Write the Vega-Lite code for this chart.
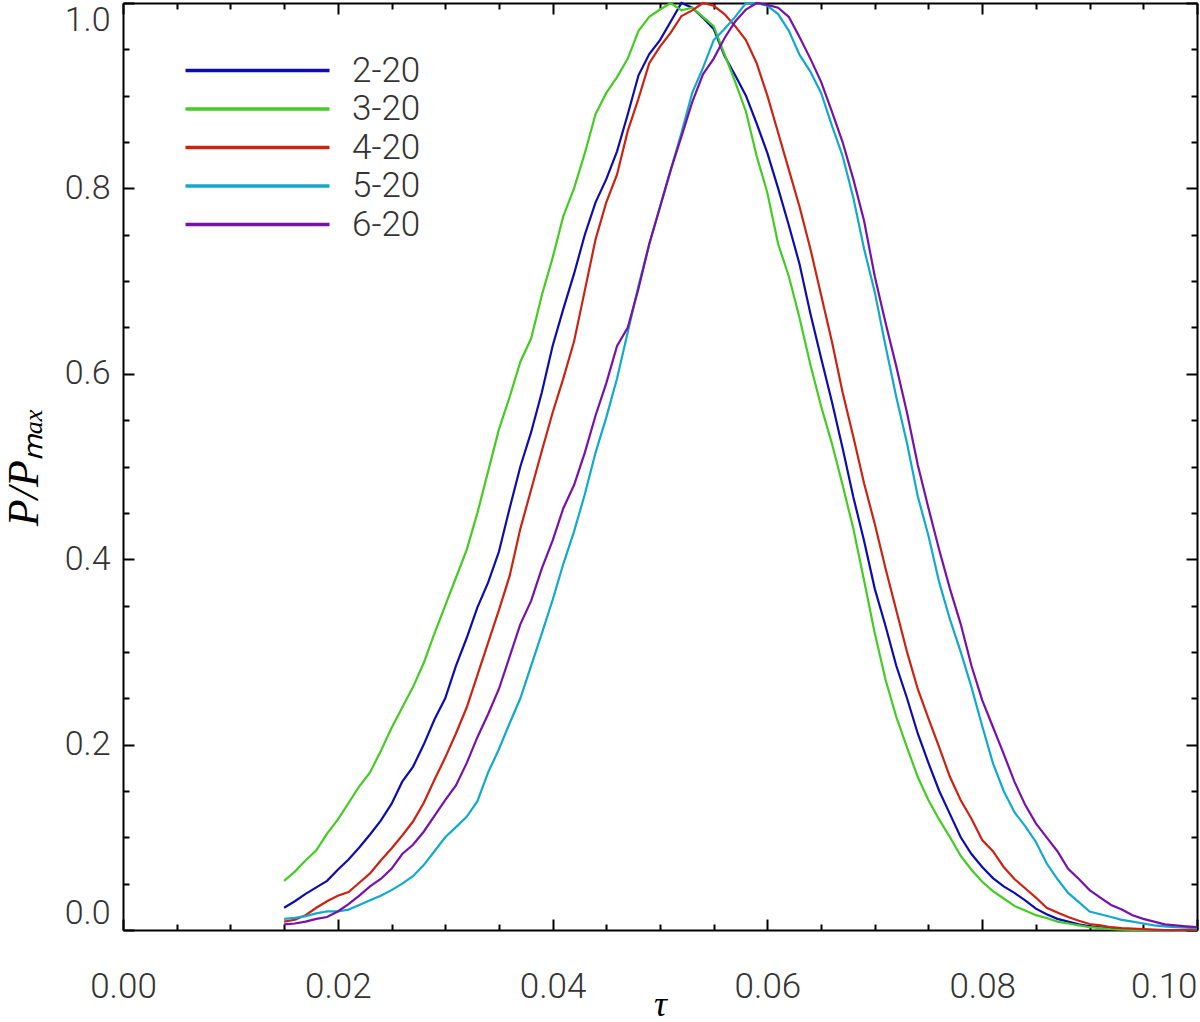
{
 "$schema": "https://vega.github.io/schema/vega-lite/v6.json",
 "width": 1074, "height": 927,
 "autosize": {"type": "none"},
 "padding": {"left": 123, "top": 3, "right": 3, "bottom": 92},
 "background": "white",
 "config": {"view": {"stroke": null}},
 "data": {"values": [
  {"t":0.015,"2-20":0.024,"3-20":0.053,"4-20":0.009,"5-20":0.012,"6-20":0.006},
  {"t":0.016,"2-20":0.031,"3-20":0.063,"4-20":0.011,"5-20":0.013,"6-20":0.007},
  {"t":0.017,"2-20":0.039,"3-20":0.075,"4-20":0.016,"5-20":0.015,"6-20":0.009},
  {"t":0.018,"2-20":0.046,"3-20":0.086,"4-20":0.024,"5-20":0.018,"6-20":0.012},
  {"t":0.019,"2-20":0.053,"3-20":0.104,"4-20":0.031,"5-20":0.020,"6-20":0.014},
  {"t":0.020,"2-20":0.065,"3-20":0.119,"4-20":0.037,"5-20":0.020,"6-20":0.020},
  {"t":0.021,"2-20":0.076,"3-20":0.137,"4-20":0.041,"5-20":0.022,"6-20":0.028},
  {"t":0.022,"2-20":0.089,"3-20":0.155,"4-20":0.051,"5-20":0.027,"6-20":0.037},
  {"t":0.023,"2-20":0.103,"3-20":0.170,"4-20":0.061,"5-20":0.032,"6-20":0.047},
  {"t":0.024,"2-20":0.118,"3-20":0.193,"4-20":0.075,"5-20":0.037,"6-20":0.055},
  {"t":0.025,"2-20":0.136,"3-20":0.218,"4-20":0.088,"5-20":0.043,"6-20":0.066},
  {"t":0.026,"2-20":0.160,"3-20":0.240,"4-20":0.102,"5-20":0.050,"6-20":0.082},
  {"t":0.027,"2-20":0.176,"3-20":0.262,"4-20":0.117,"5-20":0.058,"6-20":0.092},
  {"t":0.028,"2-20":0.200,"3-20":0.288,"4-20":0.137,"5-20":0.070,"6-20":0.106},
  {"t":0.029,"2-20":0.227,"3-20":0.320,"4-20":0.162,"5-20":0.085,"6-20":0.123},
  {"t":0.030,"2-20":0.250,"3-20":0.350,"4-20":0.186,"5-20":0.100,"6-20":0.140},
  {"t":0.031,"2-20":0.285,"3-20":0.380,"4-20":0.212,"5-20":0.111,"6-20":0.156},
  {"t":0.032,"2-20":0.315,"3-20":0.410,"4-20":0.240,"5-20":0.122,"6-20":0.180},
  {"t":0.033,"2-20":0.348,"3-20":0.450,"4-20":0.275,"5-20":0.139,"6-20":0.208},
  {"t":0.034,"2-20":0.375,"3-20":0.495,"4-20":0.310,"5-20":0.170,"6-20":0.233},
  {"t":0.035,"2-20":0.408,"3-20":0.540,"4-20":0.345,"5-20":0.195,"6-20":0.260},
  {"t":0.036,"2-20":0.455,"3-20":0.575,"4-20":0.382,"5-20":0.223,"6-20":0.295},
  {"t":0.037,"2-20":0.500,"3-20":0.613,"4-20":0.433,"5-20":0.250,"6-20":0.330},
  {"t":0.038,"2-20":0.537,"3-20":0.638,"4-20":0.475,"5-20":0.285,"6-20":0.355},
  {"t":0.039,"2-20":0.580,"3-20":0.685,"4-20":0.517,"5-20":0.320,"6-20":0.390},
  {"t":0.040,"2-20":0.630,"3-20":0.725,"4-20":0.558,"5-20":0.356,"6-20":0.420},
  {"t":0.041,"2-20":0.670,"3-20":0.770,"4-20":0.595,"5-20":0.395,"6-20":0.455},
  {"t":0.042,"2-20":0.708,"3-20":0.800,"4-20":0.635,"5-20":0.430,"6-20":0.480},
  {"t":0.043,"2-20":0.750,"3-20":0.838,"4-20":0.690,"5-20":0.470,"6-20":0.515},
  {"t":0.044,"2-20":0.785,"3-20":0.880,"4-20":0.745,"5-20":0.515,"6-20":0.555},
  {"t":0.045,"2-20":0.810,"3-20":0.903,"4-20":0.785,"5-20":0.553,"6-20":0.590},
  {"t":0.046,"2-20":0.840,"3-20":0.920,"4-20":0.815,"5-20":0.595,"6-20":0.630},
  {"t":0.047,"2-20":0.880,"3-20":0.940,"4-20":0.862,"5-20":0.645,"6-20":0.650},
  {"t":0.048,"2-20":0.922,"3-20":0.970,"4-20":0.897,"5-20":0.695,"6-20":0.692},
  {"t":0.049,"2-20":0.945,"3-20":0.985,"4-20":0.935,"5-20":0.740,"6-20":0.740},
  {"t":0.050,"2-20":0.960,"3-20":0.993,"4-20":0.953,"5-20":0.780,"6-20":0.780},
  {"t":0.051,"2-20":0.980,"3-20":1.000,"4-20":0.968,"5-20":0.820,"6-20":0.820},
  {"t":0.052,"2-20":1.000,"3-20":0.992,"4-20":0.986,"5-20":0.860,"6-20":0.856},
  {"t":0.053,"2-20":0.995,"3-20":0.995,"4-20":0.992,"5-20":0.903,"6-20":0.893},
  {"t":0.054,"2-20":0.984,"3-20":0.985,"4-20":1.000,"5-20":0.930,"6-20":0.923},
  {"t":0.055,"2-20":0.972,"3-20":0.975,"4-20":0.997,"5-20":0.960,"6-20":0.940},
  {"t":0.056,"2-20":0.943,"3-20":0.945,"4-20":0.988,"5-20":0.972,"6-20":0.962},
  {"t":0.057,"2-20":0.922,"3-20":0.915,"4-20":0.975,"5-20":0.985,"6-20":0.980},
  {"t":0.058,"2-20":0.900,"3-20":0.883,"4-20":0.960,"5-20":1.000,"6-20":0.993},
  {"t":0.059,"2-20":0.870,"3-20":0.835,"4-20":0.935,"5-20":1.000,"6-20":1.000},
  {"t":0.060,"2-20":0.838,"3-20":0.795,"4-20":0.900,"5-20":0.997,"6-20":0.998},
  {"t":0.061,"2-20":0.800,"3-20":0.740,"4-20":0.860,"5-20":0.988,"6-20":0.995},
  {"t":0.062,"2-20":0.760,"3-20":0.705,"4-20":0.820,"5-20":0.970,"6-20":0.985},
  {"t":0.063,"2-20":0.718,"3-20":0.660,"4-20":0.780,"5-20":0.944,"6-20":0.963},
  {"t":0.064,"2-20":0.665,"3-20":0.610,"4-20":0.735,"5-20":0.926,"6-20":0.940},
  {"t":0.065,"2-20":0.617,"3-20":0.565,"4-20":0.685,"5-20":0.903,"6-20":0.915},
  {"t":0.066,"2-20":0.570,"3-20":0.525,"4-20":0.635,"5-20":0.868,"6-20":0.883},
  {"t":0.067,"2-20":0.520,"3-20":0.480,"4-20":0.580,"5-20":0.835,"6-20":0.850},
  {"t":0.068,"2-20":0.467,"3-20":0.433,"4-20":0.532,"5-20":0.790,"6-20":0.810},
  {"t":0.069,"2-20":0.420,"3-20":0.377,"4-20":0.482,"5-20":0.735,"6-20":0.765},
  {"t":0.070,"2-20":0.368,"3-20":0.320,"4-20":0.438,"5-20":0.688,"6-20":0.705},
  {"t":0.071,"2-20":0.328,"3-20":0.270,"4-20":0.390,"5-20":0.630,"6-20":0.655},
  {"t":0.072,"2-20":0.285,"3-20":0.230,"4-20":0.345,"5-20":0.575,"6-20":0.608},
  {"t":0.073,"2-20":0.250,"3-20":0.197,"4-20":0.300,"5-20":0.525,"6-20":0.558},
  {"t":0.074,"2-20":0.212,"3-20":0.165,"4-20":0.260,"5-20":0.468,"6-20":0.502},
  {"t":0.075,"2-20":0.180,"3-20":0.140,"4-20":0.228,"5-20":0.425,"6-20":0.455},
  {"t":0.076,"2-20":0.150,"3-20":0.119,"4-20":0.197,"5-20":0.375,"6-20":0.410},
  {"t":0.077,"2-20":0.125,"3-20":0.100,"4-20":0.165,"5-20":0.335,"6-20":0.368},
  {"t":0.078,"2-20":0.100,"3-20":0.080,"4-20":0.140,"5-20":0.300,"6-20":0.330},
  {"t":0.079,"2-20":0.082,"3-20":0.065,"4-20":0.120,"5-20":0.262,"6-20":0.285},
  {"t":0.080,"2-20":0.068,"3-20":0.052,"4-20":0.097,"5-20":0.220,"6-20":0.248},
  {"t":0.081,"2-20":0.056,"3-20":0.042,"4-20":0.085,"5-20":0.180,"6-20":0.219},
  {"t":0.082,"2-20":0.047,"3-20":0.034,"4-20":0.068,"5-20":0.150,"6-20":0.190},
  {"t":0.083,"2-20":0.040,"3-20":0.026,"4-20":0.055,"5-20":0.127,"6-20":0.160},
  {"t":0.084,"2-20":0.032,"3-20":0.021,"4-20":0.045,"5-20":0.112,"6-20":0.135},
  {"t":0.085,"2-20":0.023,"3-20":0.016,"4-20":0.035,"5-20":0.095,"6-20":0.115},
  {"t":0.086,"2-20":0.017,"3-20":0.013,"4-20":0.024,"5-20":0.072,"6-20":0.100},
  {"t":0.087,"2-20":0.012,"3-20":0.009,"4-20":0.019,"5-20":0.055,"6-20":0.085},
  {"t":0.088,"2-20":0.009,"3-20":0.007,"4-20":0.014,"5-20":0.040,"6-20":0.066},
  {"t":0.089,"2-20":0.006,"3-20":0.005,"4-20":0.010,"5-20":0.030,"6-20":0.055},
  {"t":0.090,"2-20":0.004,"3-20":0.003,"4-20":0.0065,"5-20":0.020,"6-20":0.043},
  {"t":0.091,"2-20":0.003,"3-20":0.002,"4-20":0.005,"5-20":0.017,"6-20":0.035},
  {"t":0.092,"2-20":0.0015,"3-20":0.001,"4-20":0.003,"5-20":0.014,"6-20":0.027},
  {"t":0.093,"2-20":0.001,"3-20":0.0005,"4-20":0.002,"5-20":0.011,"6-20":0.022},
  {"t":0.094,"2-20":0.0005,"3-20":0,"4-20":0.0015,"5-20":0.009,"6-20":0.016},
  {"t":0.095,"2-20":0,"3-20":0,"4-20":0.001,"5-20":0.007,"6-20":0.012},
  {"t":0.096,"2-20":0,"3-20":0,"4-20":0.0005,"5-20":0.005,"6-20":0.009},
  {"t":0.097,"2-20":0,"3-20":0,"4-20":0,"5-20":0.004,"6-20":0.006},
  {"t":0.098,"2-20":0,"3-20":0,"4-20":0,"5-20":0.003,"6-20":0.005},
  {"t":0.099,"2-20":0,"3-20":0,"4-20":0,"5-20":0.0025,"6-20":0.004},
  {"t":0.100,"2-20":0,"3-20":0,"4-20":0,"5-20":0.002,"6-20":0.003}
 ]},
 "transform": [{"fold": ["2-20","3-20","4-20","5-20","6-20"], "as": ["series","p"]}],
 "layer": [
  {
   "mark": {"type": "line", "strokeWidth": 2.2},
   "encoding": {
    "x": {"field": "t", "type": "quantitative",
     "scale": {"domain": [0, 0.1], "nice": false, "zero": false},
     "axis": {"orient": "bottom",
      "values": [0,0.005,0.01,0.015,0.02,0.025,0.03,0.035,0.04,0.045,0.05,0.055,0.06,0.065,0.07,0.075,0.08,0.085,0.09,0.095,0.1],
      "labelExpr": "abs(datum.value*50-round(datum.value*50))<0.001 ? format(datum.value,'.2f') : ''",
      "tickSize": {"condition": {"test": "abs(datum.value*50-round(datum.value*50))<0.001", "value": -11}, "value": -6},
      "tickWidth": 2, "tickColor": "black", "domainColor": "black", "domainWidth": 2, "grid": false,
      "labelFont": "Roboto", "labelFontWeight": 300, "labelFontSize": 35, "labelColor": "#333",
      "labelPadding": 50, "labelOverlap": false, "labelBound": false, "labelFlush": false,
      "labelAlign": {"condition": {"test": "datum.value>0.099", "value": "right"}, "value": "center"},
      "title": "τ", "titleFont": "Liberation Serif", "titleFontStyle": "italic", "titleFontWeight": "normal",
      "titleFontSize": 36, "titleColor": "black", "titleBaseline": "alphabetic", "titleY": 85}},
    "y": {"field": "p", "type": "quantitative",
     "scale": {"domain": [0, 1], "nice": false, "zero": false},
     "axis": {"orient": "left",
      "values": [0,0.05,0.1,0.15,0.2,0.25,0.3,0.35,0.4,0.45,0.5,0.55,0.6,0.65,0.7,0.75,0.8,0.85,0.9,0.95,1],
      "labelExpr": "abs(datum.value*5-round(datum.value*5))<0.001 ? format(datum.value,'.1f') : ''",
      "tickSize": {"condition": {"test": "abs(datum.value*5-round(datum.value*5))<0.001", "value": -11}, "value": -6},
      "tickWidth": 2, "tickColor": "black", "domainColor": "black", "domainWidth": 2, "grid": false,
      "labelFont": "Roboto", "labelFontWeight": 300, "labelFontSize": 34, "labelColor": "#333",
      "labelPadding": 24, "labelOverlap": false, "labelBound": false, "labelFlush": true,
      "title": "P/Pₘₐₓ", "titleFont": "Liberation Serif", "titleFontStyle": "italic", "titleFontWeight": "normal",
      "titleFontSize": 44, "titleColor": "black", "titlePadding": 18}},
    "color": {"field": "series", "type": "nominal",
     "scale": {"domain": ["2-20","3-20","4-20","5-20","6-20"], "range": ["#0c0cb0","#44cc22","#cc2211","#11aacc","#7711aa"]},
     "legend": {"orient": "none", "legendX": 117, "legendY": 50, "title": null,
      "symbolType": "M-6,0H6", "symbolSize": 576, "symbolStrokeWidth": 3.5, "symbolOffset": 0,
      "labelFont": "Roboto", "labelFontWeight": 300, "labelFontSize": 35, "labelColor": "#333",
      "labelOffset": 77, "rowPadding": 2.5, "padding": 0}}
   }
  },
  {
   "mark": {"type": "point", "opacity": 0},
   "encoding": {
    "x": {"field": "t", "type": "quantitative",
     "scale": {"domain": [0, 0.1], "nice": false, "zero": false},
     "axis": {"orient": "top",
      "values": [0,0.005,0.01,0.015,0.02,0.025,0.03,0.035,0.04,0.045,0.05,0.055,0.06,0.065,0.07,0.075,0.08,0.085,0.09,0.095,0.1],
      "labels": false, "title": null,
      "tickSize": {"condition": {"test": "abs(datum.value*50-round(datum.value*50))<0.001", "value": -11}, "value": -6},
      "tickWidth": 2, "tickColor": "black", "domainColor": "black", "domainWidth": 2, "grid": false}},
    "y": {"field": "p", "type": "quantitative",
     "scale": {"domain": [0, 1], "nice": false, "zero": false},
     "axis": {"orient": "right",
      "values": [0,0.05,0.1,0.15,0.2,0.25,0.3,0.35,0.4,0.45,0.5,0.55,0.6,0.65,0.7,0.75,0.8,0.85,0.9,0.95,1],
      "labels": false, "title": null,
      "tickSize": {"condition": {"test": "abs(datum.value*5-round(datum.value*5))<0.001", "value": -11}, "value": -6},
      "tickWidth": 2, "tickColor": "black", "domainColor": "black", "domainWidth": 2, "grid": false}}
   }
  }
 ],
 "resolve": {"axis": {"x": "independent", "y": "independent"}}
}
